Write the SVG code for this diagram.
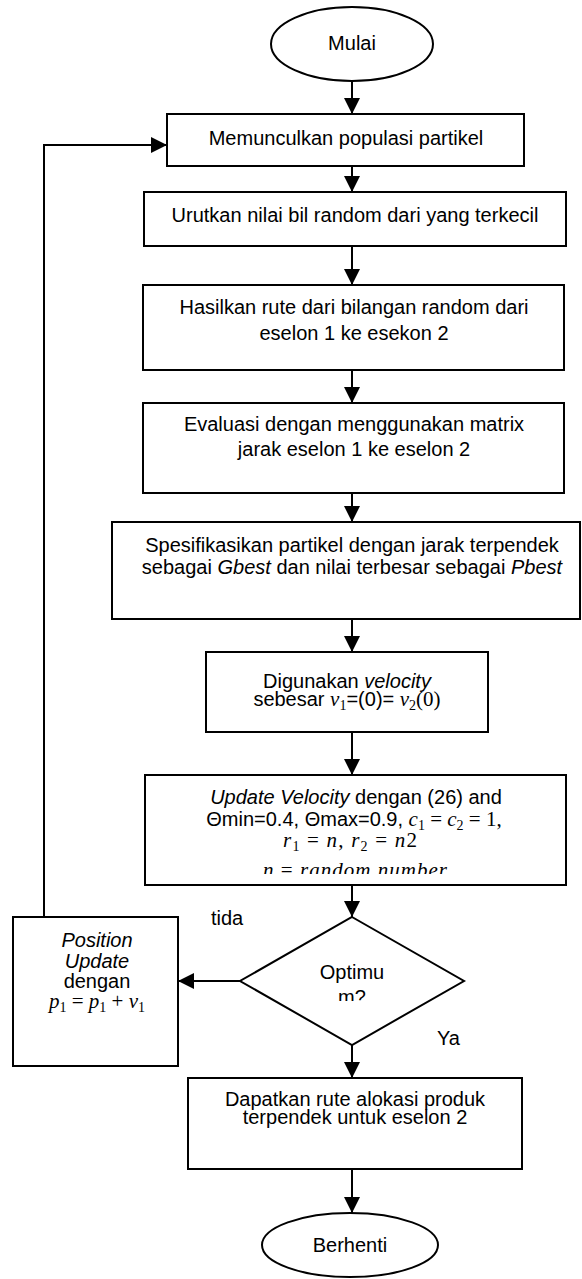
<svg xmlns="http://www.w3.org/2000/svg" width="582" height="1279" viewBox="0 0 582 1279">
<style>
.s{fill:#fff;stroke:#000;stroke-width:2}
.c{fill:none;stroke:#000;stroke-width:2;marker-end:url(#ah)}
text{font-family:"Liberation Sans",Arial,sans-serif;font-size:20px;fill:#000;text-anchor:middle}
.it{font-style:italic}
.mi{font-family:"Liberation Serif","Times New Roman",serif;font-style:italic;font-size:21px}
.mn{font-family:"Liberation Serif","Times New Roman",serif;font-style:normal;font-size:21px}
.sb{font-family:"Liberation Serif","Times New Roman",serif;font-style:normal;font-size:14px}
.l{text-anchor:start}
</style>
<defs>
<marker id="ah" markerWidth="16" markerHeight="16" refX="16" refY="8" orient="auto" markerUnits="userSpaceOnUse">
<path d="M0,0 L16,8 L0,16 z" fill="#000"/>
</marker>
<clipPath id="clip7"><rect x="140" y="770" width="430" height="104"/></clipPath>
<clipPath id="clipd"><rect x="230" y="910" width="250" height="91"/></clipPath>
</defs>
<g id="connectors">
<line class="c" x1="352" y1="81" x2="352" y2="114"/>
<line class="c" x1="352" y1="166" x2="352" y2="192"/>
<line class="c" x1="352" y1="246" x2="352" y2="285"/>
<line class="c" x1="352" y1="370" x2="352" y2="403"/>
<line class="c" x1="352" y1="493" x2="352" y2="522"/>
<line class="c" x1="352" y1="619" x2="352" y2="652"/>
<line class="c" x1="352" y1="732" x2="352" y2="775"/>
<line class="c" x1="352" y1="885" x2="352" y2="917"/>
<line class="c" x1="240" y1="981" x2="178" y2="981"/>
<line class="c" x1="352" y1="1045" x2="352" y2="1078"/>
<line class="c" x1="352" y1="1169" x2="352" y2="1213"/>
<polyline class="c" points="44,917 44,145 167,145"/>
</g>
<g id="start">
<ellipse class="s" cx="352" cy="44" rx="81" ry="37"/>
<text x="352" y="50">Mulai</text>
</g>
<g id="n1">
<rect class="s" x="167" y="114" width="357" height="52"/>
<text x="346" y="145">Memunculkan populasi partikel</text>
</g>
<g id="n2">
<rect class="s" x="144" y="192" width="422" height="54"/>
<text x="355" y="222">Urutkan nilai bil random dari yang terkecil</text>
</g>
<g id="n3">
<rect class="s" x="143" y="285" width="421" height="85"/>
<text x="354" y="314">Hasilkan rute dari bilangan random dari</text>
<text x="354" y="340">eselon 1 ke esekon 2</text>
</g>
<g id="n4">
<rect class="s" x="143" y="403" width="421" height="90"/>
<text x="354" y="431">Evaluasi dengan menggunakan matrix</text>
<text x="354" y="456">jarak eselon 1 ke eselon 2</text>
</g>
<g id="n5">
<rect class="s" x="112" y="522" width="468" height="97"/>
<text x="352" y="552">Spesifikasikan partikel dengan jarak terpendek</text>
<text x="352" y="574">sebagai <tspan class="it">Gbest</tspan> dan nilai terbesar sebagai <tspan class="it">Pbest</tspan></text>
</g>
<g id="n6">
<rect class="s" x="206" y="652" width="282" height="80"/>
<text x="347" y="688">Digunakan <tspan class="it">velocity</tspan></text>
<text x="347" y="706">sebesar <tspan class="mi">v</tspan><tspan class="sb" dy="4">1</tspan><tspan dy="-4">=(0)= </tspan><tspan class="mi">v</tspan><tspan class="sb" dy="4">2</tspan><tspan class="mn" dy="-4">(0)</tspan></text>
</g>
<g id="n7">
<rect class="s" x="145" y="775" width="421" height="110"/>
<text x="356" y="804"><tspan class="it">Update Velocity</tspan> dengan (26) and</text>
<text x="354" y="826">Θmin=0.4, Θmax=0.9, <tspan class="mi">c</tspan><tspan class="sb" dy="4">1</tspan><tspan class="mn" dy="-4"> = </tspan><tspan class="mi">c</tspan><tspan class="sb" dy="4">2</tspan><tspan class="mn" dy="-4"> = 1,</tspan></text>
<text x="350" y="847" textLength="134" lengthAdjust="spacing"><tspan class="mi">r</tspan><tspan class="sb" dy="4">1</tspan><tspan class="mn" dy="-4"> = </tspan><tspan class="mi">n</tspan><tspan class="mn">, </tspan><tspan class="mi">r</tspan><tspan class="sb" dy="4">2</tspan><tspan class="mn" dy="-4"> = </tspan><tspan class="mi">n</tspan><tspan class="mn">2</tspan></text>
<text x="355" y="877" clip-path="url(#clip7)" textLength="184" lengthAdjust="spacing"><tspan class="mi">n</tspan><tspan class="mn"> = </tspan><tspan class="mi">random number</tspan></text>
</g>
<g id="decision">
<polygon class="s" points="352,917 464,981 352,1045 240,981"/>
<text x="352" y="979">Optimu</text>
<text x="352" y="1004" clip-path="url(#clipd)">m?</text>
</g>
<g id="labels">
<text class="l" x="211" y="925">tida</text>
<text class="l" x="437" y="1045">Ya</text>
</g>
<g id="position">
<rect class="s" x="13" y="917" width="165" height="149"/>
<text x="97" y="947" class="it">Position</text>
<text x="97" y="968" class="it">Update</text>
<text x="97" y="988">dengan</text>
<text x="97" y="1008"><tspan class="mi">p</tspan><tspan class="sb" dy="4">1</tspan><tspan class="mn" dy="-4"> = </tspan><tspan class="mi">p</tspan><tspan class="sb" dy="4">1</tspan><tspan class="mn" dy="-4"> + </tspan><tspan class="mi">v</tspan><tspan class="sb" dy="4">1</tspan></text>
</g>
<g id="n8">
<rect class="s" x="188" y="1078" width="334" height="91"/>
<text x="355" y="1106">Dapatkan rute alokasi produk</text>
<text x="355" y="1124">terpendek untuk eselon 2</text>
</g>
<g id="end">
<ellipse class="s" cx="350" cy="1245" rx="88" ry="32"/>
<text x="350" y="1252">Berhenti</text>
</g>
</svg>
